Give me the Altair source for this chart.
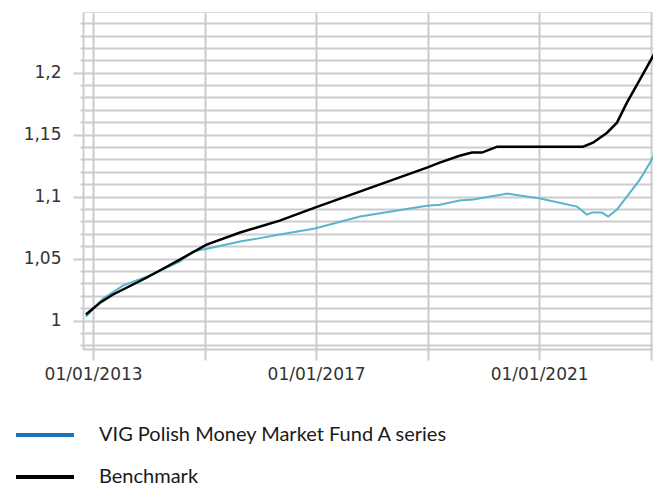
import altair as alt
import pandas as pd

FUND = "VIG Polish Money Market Fund A series"
BENCH = "Benchmark"

fund_dates = ["2012-11-15", "2013-03-08", "2013-07-16", "2013-12-20", "2014-07-23", "2014-10-16",
              "2015-02-24", "2015-08-22", "2016-01-01", "2016-05-08", "2016-12-24", "2017-10-16",
              "2018-12-28", "2019-03-22", "2019-07-30", "2019-10-27", "2020-06-10", "2021-01-08",
              "2021-09-06", "2021-11-10", "2021-12-13", "2022-02-17", "2022-03-29", "2022-05-26",
              "2022-07-30", "2022-10-23", "2022-12-28", "2023-03-10"]
fund_vals = [1.0032, 1.0177, 1.0282, 1.0355, 1.0476, 1.0556,
             1.0589, 1.0637, 1.0665, 1.0694, 1.0742, 1.0839,
             1.0927, 1.0935, 1.0968, 1.0976, 1.1024, 1.0984,
             1.0919, 1.0855, 1.0871, 1.0871, 1.0839, 1.0895,
             1.1000, 1.1137, 1.1274, 1.1435]

bench_dates = ["2012-11-15", "2013-02-15", "2013-05-12", "2013-12-20", "2014-07-23", "2015-01-15",
               "2015-08-22", "2016-05-08", "2016-12-24", "2018-12-28", "2019-03-22", "2019-07-30",
               "2019-10-19", "2019-12-24", "2020-04-01", "2021-10-16", "2021-12-20", "2022-03-22",
               "2022-05-26", "2022-07-30", "2022-10-23", "2023-01-15", "2023-03-10"]
bench_vals = [1.0048, 1.0143, 1.0210, 1.0347, 1.0492, 1.0613,
              1.0710, 1.0806, 1.0911, 1.1234, 1.1274, 1.1330,
              1.1355, 1.1355, 1.1403, 1.1403, 1.1435, 1.1516,
              1.1597, 1.1758, 1.1944, 1.2129, 1.2266]

series_order = [FUND, BENCH]
line_colors = ["#5ab4cc", "#000000"]
legend_colors = ["#1d74b8", "#000000"]
series_widths = [2, 2.5]

y_ticks = [round(0.98 + 0.01 * i, 2) for i in range(27)]
x_tick_years = [2013, 2015, 2017, 2019, 2021, 2023]

df = pd.concat([
    pd.DataFrame({"date": fund_dates, "value": fund_vals, "series": FUND}),
    pd.DataFrame({"date": bench_dates, "value": bench_vals, "series": BENCH}),
], ignore_index=True)
df["key"] = df["series"]

major_test = "abs(datum.value * 20 - round(datum.value * 20)) < 0.001"

x_enc = alt.X(
    "date:T",
    title=None,
    scale=alt.Scale(type="utc", domain=[alt.DateTime(year=2012, month=10, date=27, utc=True),
                                        alt.DateTime(year=2023, month=1, date=17, utc=True)]),
    axis=alt.Axis(
        values=[alt.DateTime(year=y, month=1, date=1, utc=True) for y in x_tick_years],
        labelExpr="utcyear(datum.value) % 4 == 1 ? utcFormat(datum.value, '%d/%m/%Y') : ''",
        tickSize=11,
        labelPadding=6,
        labelFont="DejaVu Sans",
        labelFontSize=17,
        labelColor="#333333",
        grid=True,
        gridColor="#cccccc",
        gridWidth=2,
        domainColor="#cccccc",
        domainWidth=2,
        tickColor="#cccccc",
        tickWidth=2,
        labelOverlap=False,
    ),
)

y_enc = alt.Y(
    "value:Q",
    title=None,
    scale=alt.Scale(domain=[0.977, 1.249], nice=False, zero=False),
    axis=alt.Axis(
        values=y_ticks,
        labelExpr=f"{major_test} ? replace(format(datum.value, '.2~f'), '.', ',') : ''",
        tickSize={"condition": {"test": major_test, "value": 10}, "value": 3},
        labelPadding=12,
        labelFont="DejaVu Sans",
        labelFontSize=17,
        labelColor="#333333",
        grid=True,
        gridColor="#cccccc",
        gridWidth=2,
        domainColor="#cccccc",
        domainWidth=2,
        tickColor="#cccccc",
        tickWidth=2,
        labelOverlap=False,
    ),
)

lines = alt.Chart(df).mark_line(clip=True).encode(
    x=x_enc,
    y=y_enc,
    stroke=alt.Stroke("series:N", scale=alt.Scale(domain=series_order, range=line_colors), legend=None),
    strokeWidth=alt.StrokeWidth("series:N", scale=alt.Scale(domain=series_order, range=series_widths), legend=None),
)

legend_layer = alt.Chart(df).mark_point(size=0, opacity=0, filled=False, clip=True).encode(
    x=x_enc,
    y=y_enc,
    color=alt.Color(
        "key:N",
        scale=alt.Scale(domain=series_order, range=legend_colors),
        legend=alt.Legend(
            title=None,
            orient="none",
            legendX=-69,
            legendY=413,
            direction="vertical",
            symbolType="stroke",
            symbolSize=3364,
            symbolStrokeWidth=4,
            symbolOpacity=1,
            clipHeight=20,
            rowPadding=22,
            labelOffset=23,
            labelFont="Lato",
            labelFontSize=20,
            labelColor="#1a1a1a",
            labelLimit=600,
            padding=0,
        ),
    ),
)

chart = alt.layer(lines, legend_layer).resolve_legend(
    color="independent", stroke="independent"
).properties(
    width=570,
    height=337,
    autosize=alt.AutoSizeParams(type="none"),
    padding={"left": 75, "top": 4, "right": 0, "bottom": 140},
).configure_view(
    stroke="#cccccc",
    strokeWidth=2,
).configure(background="white")

chart.save("out.html", embed_options={"renderer": "svg", "actions": False})
